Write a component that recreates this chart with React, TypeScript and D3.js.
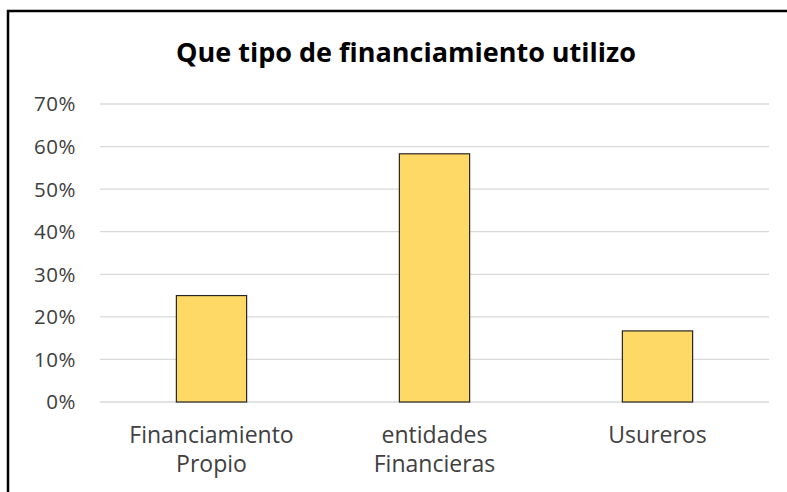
import React from 'react'
import { scaleBand, scaleLinear } from 'd3'

// data
const categories = [['Financiamiento', 'Propio'], ['entidades', 'Financieras'], ['Usureros']]
const values = [0.25, 0.583, 0.167]
const yTicks = [0, 0.1, 0.2, 0.3, 0.4, 0.5, 0.6, 0.7]
const title = 'Que tipo de financiamiento utilizo'

const W = 787
const H = 492
const font = "'Open Sans', 'Noto Sans', sans-serif"

const App = () => {
  const x = scaleBand<number>()
    .domain(values.map((_, i) => i))
    .range([100, 769])
    .paddingInner(0.685)
    .paddingOuter(0.3425)

  const y = scaleLinear().domain([0, 0.7]).range([402, 104])

  return (
    <svg width={W} height={H} style={{ position: 'absolute', left: 0, top: 0 }}>
      <rect x={0} y={0} width={W} height={H} fill="#fff" />
      <rect x={8} y={11} width={W + 10} height={H + 10} fill="none" stroke="#000" strokeWidth={2.5} />

      <text x={406} y={62} textAnchor="middle" fontFamily={font} fontWeight="bold" fontSize={27} fill="#000">
        {title}
      </text>

      {/* gridlines + y labels */}
      {yTicks.map(t => (
        <g key={t}>
          <line x1={100} x2={769} y1={y(t)} y2={y(t)} stroke="#d9d9d9" strokeWidth={1.3} />
          <text x={76} y={y(t)} dy="0.36em" textAnchor="end" fontFamily={font} fontSize={20.5} letterSpacing={0.5} fill="#404040">
            {Math.round(t * 100) + '%'}
          </text>
        </g>
      ))}

      {/* bars */}
      {values.map((v, i) => (
        <rect
          key={i}
          x={x(i)}
          y={y(v)}
          width={x.bandwidth()}
          height={y(0) - y(v)}
          fill="#ffd966"
          stroke="#262626"
          strokeWidth={1.2}
        />
      ))}

      {/* category labels */}
      {categories.map((lines, i) => (
        <text key={i} textAnchor="middle" fontFamily={font} fontSize={23} fill="#404040">
          {lines.map((l, j) => (
            <tspan key={j} x={(x(i) as number) + x.bandwidth() / 2} y={443 + j * 29}>
              {l}
            </tspan>
          ))}
        </text>
      ))}
    </svg>
  )
}

export default App
